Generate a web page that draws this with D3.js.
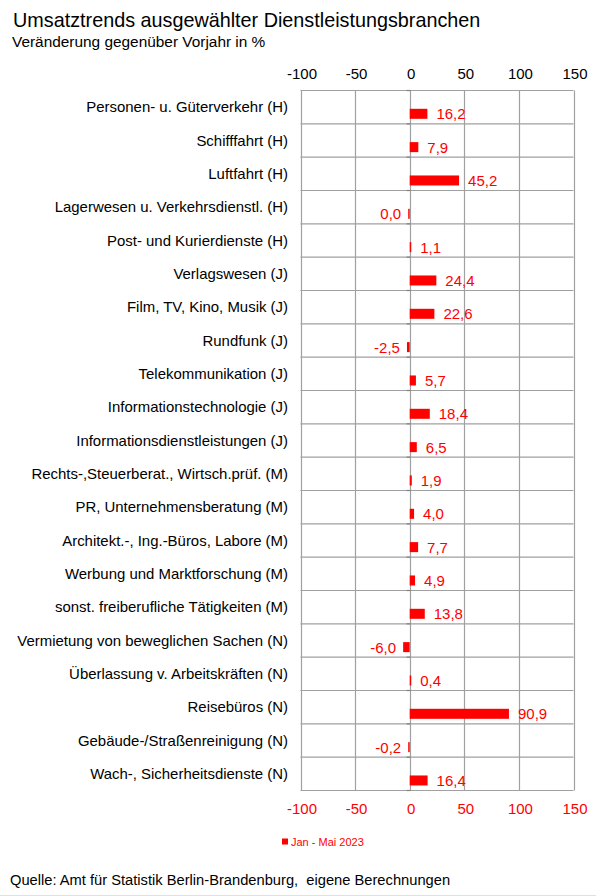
<!DOCTYPE html>
<html>
<head>
<meta charset="utf-8">
<script src="https://cdn.jsdelivr.net/npm/d3@7"></script>
<style>
  html, body { margin: 0; padding: 0; background: #fff; }
  svg { display: block; font-family: "Liberation Sans", Arial, sans-serif; }
</style>
</head>
<body>
<svg id="chart" width="596" height="896"></svg>
<script>
const categories = [
  "Personen- u. Güterverkehr (H)",
  "Schifffahrt (H)",
  "Luftfahrt (H)",
  "Lagerwesen u. Verkehrsdienstl. (H)",
  "Post- und Kurierdienste (H)",
  "Verlagswesen (J)",
  "Film, TV, Kino, Musik (J)",
  "Rundfunk (J)",
  "Telekommunikation (J)",
  "Informationstechnologie (J)",
  "Informationsdienstleistungen (J)",
  "Rechts-,Steuerberat., Wirtsch.prüf. (M)",
  "PR, Unternehmensberatung (M)",
  "Architekt.-, Ing.-Büros, Labore (M)",
  "Werbung und Marktforschung (M)",
  "sonst. freiberufliche Tätigkeiten (M)",
  "Vermietung von beweglichen Sachen (N)",
  "Überlassung v. Arbeitskräften (N)",
  "Reisebüros (N)",
  "Gebäude-/Straßenreinigung (N)",
  "Wach-, Sicherheitsdienste (N)"
];
const values = [16.2, 7.9, 45.2, 0.0, 1.1, 24.4, 22.6, -2.5, 5.7, 18.4, 6.5, 1.9, 4.0, 7.7, 4.9, 13.8, -6.0, 0.4, 90.9, -0.2, 16.4];
const xTicks = [-100, -50, 0, 50, 100, 150];
const seriesName = "Jan - Mai 2023";
const titleText = "Umsatztrends ausgewählter Dienstleistungsbranchen";
const subtitleText = "Veränderung gegenüber Vorjahr in %";
const sourceText = "Quelle: Amt für Statistik Berlin-Brandenburg,\u00A0 eigene Berechnungen";

const RED = "#ff0000";
const GRID = "#a0a0a0";
const svg = d3.select("#chart");

const x = d3.scaleLinear().domain([-100, 150]).range([300.5, 573.5]);
const y = d3.scaleBand().domain(categories).range([90.5, 790.5]).padding(0);
const rowH = y.bandwidth();
const fmt = v => d3.format(".1f")(v).replace(".", ",").replace("\u2212", "-");

// Title
svg.append("text").attr("x", 13).attr("y", 27).attr("font-size", 19.8).attr("fill", "#000").text(titleText);
svg.append("text").attr("x", 12).attr("y", 47).attr("font-size", 15.4).attr("fill", "#000").text(subtitleText);

// Grid
const g = svg.append("g");
g.selectAll("line.v").data(xTicks).join("line")
  .attr("x1", d => Math.round(x(d)) + 0.5).attr("x2", d => Math.round(x(d)) + 0.5)
  .attr("y1", y.range()[0]).attr("y2", y.range()[1])
  .attr("stroke", GRID).attr("stroke-width", 1.2);
const bounds = categories.map(c => y(c)).concat([y.range()[1]]);
g.selectAll("line.h").data(bounds).join("line")
  .attr("x1", x(-100)).attr("x2", x(150))
  .attr("y1", d => d).attr("y2", d => d)
  .attr("stroke", GRID).attr("stroke-width", 1.2);
// small ticks on category axis at zero
g.selectAll("line.t").data(bounds).join("line")
  .attr("x1", Math.round(x(0)) + 0.5 - 4).attr("x2", Math.round(x(0)) + 0.5)
  .attr("y1", d => d).attr("y2", d => d)
  .attr("stroke", "#808080").attr("stroke-width", 1.2);

// Top axis labels
const axTop = d3.axisTop(x).tickValues(xTicks).tickSize(0).tickPadding(0).tickFormat(d => String(d));
const gTop = svg.append("g").attr("transform", "translate(1,79)").call(axTop);
gTop.select(".domain").remove();
gTop.selectAll("text").attr("font-size", 15).attr("fill", "#000")
  .attr("font-family", "Liberation Sans, Arial, sans-serif").attr("dy", 0);

const axBot = d3.axisBottom(x).tickValues(xTicks).tickSize(0).tickPadding(0).tickFormat(d => String(d));
const gBot = svg.append("g").attr("transform", "translate(1,814)").call(axBot);
gBot.select(".domain").remove();
gBot.selectAll("text").attr("font-size", 15).attr("fill", RED)
  .attr("font-family", "Liberation Sans, Arial, sans-serif").attr("dy", 0);

// Category labels
svg.append("g").selectAll("text").data(categories).join("text")
  .attr("x", 288).attr("y", d => y(d) + rowH / 2 + 5)
  .attr("text-anchor", "end").attr("font-size", 14.95).attr("fill", "#000")
  .text(d => d);

// Bars
const barH = 10, barOff = 18.3;
const data = categories.map((c, i) => ({ c, v: values[i] }));
svg.append("g").selectAll("rect").data(data).join("rect")
  .attr("x", d => d.v > 0 ? x(0) : Math.min(x(d.v), x(0) - 1.5))
  .attr("width", d => Math.max(Math.abs(x(d.v) - x(0)), 1.5))
  .attr("y", d => y(d.c) + barOff).attr("height", barH)
  .attr("fill", RED);

// Value labels
svg.append("g").selectAll("text").data(data).join("text")
  .attr("x", d => d.v > 0 ? Math.max(x(d.v), x(0) + 1.5) + 9 : Math.min(x(d.v), x(0) - 1.5) - 7)
  .attr("y", d => y(d.c) + barOff + barH / 2 + 5.5)
  .attr("text-anchor", d => d.v > 0 ? "start" : "end")
  .attr("font-size", 15).attr("fill", RED)
  .text(d => fmt(d.v));

// Legend
const lg = svg.append("g");
lg.append("rect").attr("x", 282).attr("y", 838.5).attr("width", 6).attr("height", 6).attr("fill", RED);
lg.append("text").attr("x", 291).attr("y", 845.5).attr("font-size", 11).attr("fill", RED).text(seriesName);

// Source
svg.append("text").attr("x", 10).attr("y", 885).attr("font-size", 14.7).attr("fill", "#000").text(sourceText);
svg.append("line").attr("x1", 0).attr("x2", 596).attr("y1", 895.5).attr("y2", 895.5).attr("stroke", "#e0e0e0");
</script>
</body>
</html>
